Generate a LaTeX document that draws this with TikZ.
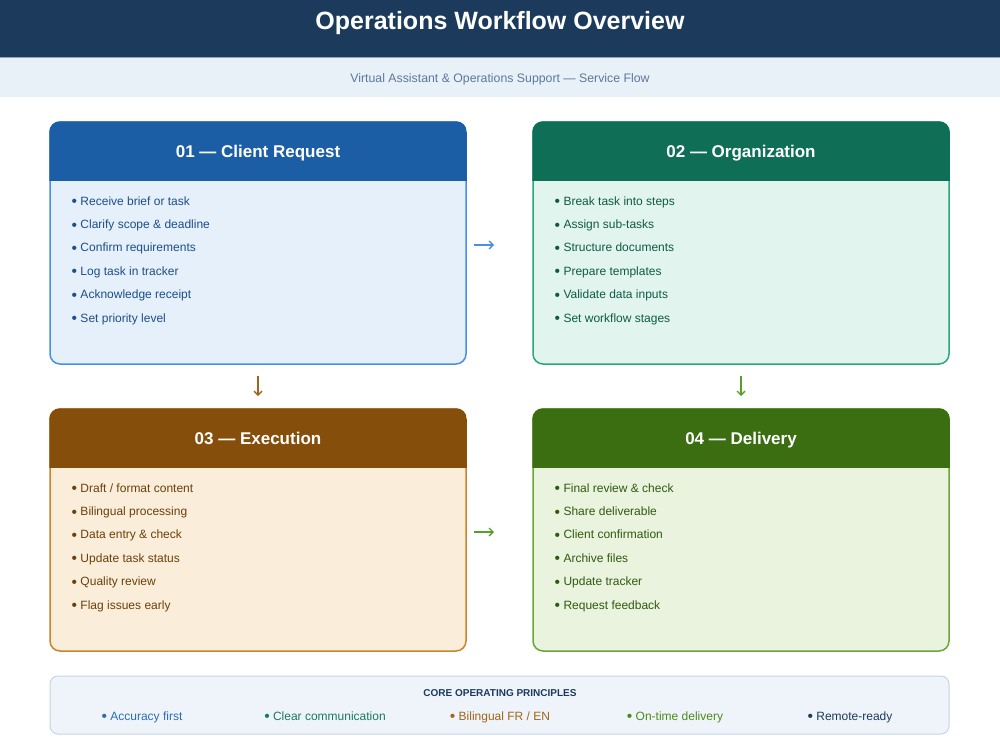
\documentclass[tikz,border=0pt]{standalone}
\usepackage{fontspec}
\setmainfont{Liberation Sans}
\usetikzlibrary{arrows.meta,calc}
\definecolor{navy}{HTML}{1B3A5C}
\definecolor{subbg}{HTML}{E8F0F8}
\definecolor{subline}{HTML}{8CA3BA}
\definecolor{subtext}{HTML}{5B7A99}
\definecolor{cAhead}{HTML}{1B5EA6}
\definecolor{cAbody}{HTML}{E6F0FA}
\definecolor{cAborder}{HTML}{4A90E2}
\definecolor{cAtext}{HTML}{1B4F8A}
\definecolor{cBhead}{HTML}{0F6E56}
\definecolor{cBbody}{HTML}{E1F5EE}
\definecolor{cBborder}{HTML}{2EA57A}
\definecolor{cBtext}{HTML}{0F5A44}
\definecolor{cChead}{HTML}{854F0B}
\definecolor{cCbody}{HTML}{FAEEDA}
\definecolor{cCborder}{HTML}{C8852A}
\definecolor{cCtext}{HTML}{6B3F0A}
\definecolor{cDhead}{HTML}{3B6D11}
\definecolor{cDbody}{HTML}{EAF3DE}
\definecolor{cDborder}{HTML}{6AA53A}
\definecolor{cDtext}{HTML}{2E5A10}
\definecolor{botfill}{HTML}{EFF4FA}
\definecolor{botborder}{HTML}{C5D5E8}
\definecolor{pA}{HTML}{2A6DB5}
\definecolor{pB}{HTML}{1A7A5E}
\definecolor{pC}{HTML}{A0651A}
\definecolor{pD}{HTML}{4A8A1A}
\definecolor{arrA}{HTML}{4A90E2}
\definecolor{arrC}{HTML}{A0651A}
\definecolor{arrD}{HTML}{5A9E2A}
\newcommand\bigdot{\raisebox{-1.7pt}{\scalebox{1.3}{\textbullet}}}
\tikzset{
  boxbody/.style={draw, line width=1.5pt, rounded corners=10pt, minimum width=416pt, minimum height=242pt, outer sep=0pt, inner sep=0pt},
  boxtitle/.style={anchor=base, text=white, font=\fontsize{17}{20}\selectfont\bfseries, inner sep=0pt},
  item/.style={anchor=base west, font=\fontsize{12}{14}\selectfont, inner sep=0pt},
  flowarrow/.style={line width=1.3pt, -{Straight Barb[length=4pt,width=8pt]}},
  principle/.style={anchor=base, font=\fontsize{12}{14}\selectfont, inner sep=0pt}
}
\newcommand\opsbox[6]{%
  \node[boxbody, draw=#4border, fill=#4body] (#1) at (#2,#3) {};
  \begin{scope}
    \clip[rounded corners=10.75pt] ([shift={(-0.75pt,0.75pt)}]#1.north west) rectangle ([shift={(0.75pt,-0.75pt)}]#1.south east);
    \fill[#4head] ([shift={(-1pt,1pt)}]#1.north west) rectangle ([shift={(1pt,-59pt)}]#1.north east);
  \end{scope}
  \node[boxtitle] (#1t) at ([yshift=-35pt]#1.north) {#5};
  \foreach \itm [count=\k] in {#6} {
    \node[item, text=#4text] (#1i\k) at ($(#1.north west)+(21.5,83+23.4*\k-23.4)$) {\bigdot\ \itm};
  }
}
\begin{document}
\begin{tikzpicture}[x=1pt,y=-1pt]
\useasboundingbox (0,0) rectangle (1000,750);
\fill[white] (0,0) rectangle (1000,750);
% header
\fill[navy] (0,0) rectangle (1000,57);
\node[anchor=base, text=white, font=\fontsize{25}{30}\selectfont\bfseries, inner sep=0pt] (title) at (500,29) {Operations Workflow Overview};
\fill[subbg] (0,57) rectangle (1000,97);
\draw[subline, line width=1pt] (0,57.5) -- (1000,57.5);
\node[anchor=base, text=subtext, font=\fontsize{12.3}{15}\selectfont, inner sep=0pt] (subtitle) at (500,82.5) {Virtual Assistant \& Operations Support — Service Flow};
% boxes
\opsbox{b1}{258}{243}{cA}{01 — Client Request}{Receive brief or task, Clarify scope \& deadline, Confirm requirements, Log task in tracker, Acknowledge receipt, Set priority level}
\opsbox{b2}{741}{243}{cB}{02 — Organization}{Break task into steps, Assign sub-tasks, Structure documents, Prepare templates, Validate data inputs, Set workflow stages}
\opsbox{b3}{258}{530}{cC}{03 — Execution}{Draft / format content, Bilingual processing, Data entry \& check, Update task status, Quality review, Flag issues early}
\opsbox{b4}{741}{530}{cD}{04 — Delivery}{Final review \& check, Share deliverable, Client confirmation, Archive files, Update tracker, Request feedback}
% arrows
\draw[flowarrow, arrA] ($(b1.east)+(8,2)$) -- ($(b2.west)+(-39,2)$);
\draw[flowarrow, arrC] ($(b1.south)+(0,12)$) -- ($(b3.north)+(0,-13)$);
\draw[flowarrow, arrD] ($(b2.south)+(0,12)$) -- ($(b4.north)+(0,-13)$);
\draw[flowarrow, arrD] ($(b3.east)+(8,2)$) -- ($(b4.west)+(-39,2)$);
% principles
\node[draw=botborder, fill=botfill, line width=1pt, rounded corners=8pt, minimum width=899pt, minimum height=58pt, inner sep=0pt] (core) at (499.5,705) {};
\node[anchor=base, text=navy, font=\fontsize{10}{12}\selectfont\bfseries, inner sep=0pt] (coret) at (500,696.6) {CORE OPERATING PRINCIPLES};
\node[principle, text=pA] (p1) at (142,720.2) {\bigdot\ Accuracy first};
\node[principle, text=pB] (p2) at (325,720.2) {\bigdot\ Clear communication};
\node[principle, text=pC] (p3) at (500,720.2) {\bigdot\ Bilingual FR / EN};
\node[principle, text=pD] (p4) at (675,720.2) {\bigdot\ On-time delivery};
\node[principle, text=navy] (p5) at (850,720.2) {\bigdot\ Remote-ready};
\end{tikzpicture}
\end{document}
